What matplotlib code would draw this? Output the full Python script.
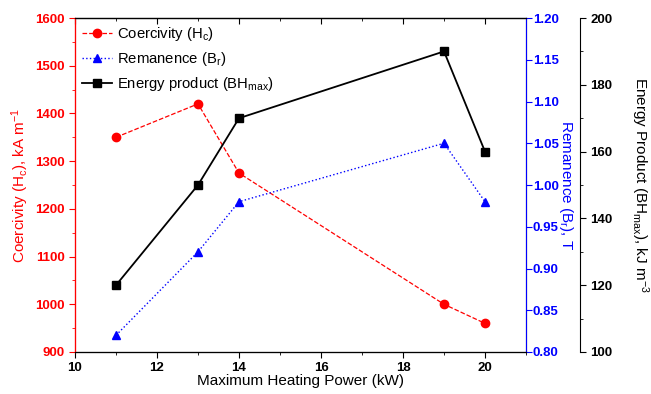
import matplotlib.pyplot as plt
from matplotlib.ticker import MultipleLocator

plt.rcParams['font.family'] = ['Liberation Sans', 'DejaVu Sans']
plt.rcParams['mathtext.default'] = 'regular'

# data
power = [11, 13, 14, 19, 20]
coercivity = [1350, 1420, 1275, 1000, 960]
remanence = [0.82, 0.92, 0.98, 1.05, 0.98]
energy = [120, 150, 170, 190, 160]

fig = plt.figure(figsize=(6.51, 3.94), dpi=100)
ax = fig.add_axes([0.1152, 0.1066, 0.6928, 0.8477])
ax2 = ax.twinx()
ax3 = ax.twinx()
ax3.spines['right'].set_position(('outward', 54 * 0.72))

l1, = ax.plot(power, coercivity, color='red', ls='--', lw=0.9, marker='o', ms=6,
              label='Coercivity (H$_c$)')
l2, = ax2.plot(power, remanence, color='blue', ls=':', lw=1.0, marker='^', ms=6,
               label='Remanence (B$_r$)')
l3, = ax3.plot(power, energy, color='black', ls='-', lw=1.3, marker='s', ms=6,
               label='Energy product (BH$_{max}$)')

ax.set_xlim(10, 21)
ax.set_ylim(900, 1600)
ax2.set_ylim(0.80, 1.20)
ax3.set_ylim(100, 200)

ax.xaxis.set_major_locator(MultipleLocator(2))
ax.xaxis.set_minor_locator(MultipleLocator(1))
ax.yaxis.set_major_locator(MultipleLocator(100))
ax.yaxis.set_minor_locator(MultipleLocator(50))
ax2.yaxis.set_major_locator(MultipleLocator(0.05))
ax3.yaxis.set_major_locator(MultipleLocator(20))
ax3.yaxis.set_minor_locator(MultipleLocator(10))

ax.tick_params(axis='x', which='major', direction='out', length=4, labelsize=9.5)
ax.tick_params(axis='x', which='minor', direction='out', length=2.5)
ax.tick_params(axis='y', which='major', direction='out', length=4, colors='red', labelsize=9.5)
ax.tick_params(axis='y', which='minor', direction='out', length=2.5, colors='red')
ax2.tick_params(axis='y', direction='out', length=4, colors='blue', labelsize=9.5, pad=1)
ax3.tick_params(axis='y', which='major', direction='out', length=4, labelsize=9.5)
ax3.tick_params(axis='y', which='minor', direction='out', length=2.5)
ax2.yaxis.set_major_formatter(plt.FuncFormatter(lambda v, p: '%.2f' % v))

top = ax.secondary_xaxis('top')
top.xaxis.set_major_locator(MultipleLocator(2))
top.xaxis.set_minor_locator(MultipleLocator(1))
top.tick_params(which='major', direction='in', length=4, labeltop=False)
top.tick_params(which='minor', direction='in', length=2.5)

for a in (ax, ax2, ax3):
    for lab in a.get_yticklabels() + a.get_xticklabels():
        lab.set_fontweight('bold')

ax.spines['left'].set_color('red')
ax2.spines['left'].set_color('red')
ax3.spines['left'].set_color('red')
ax2.spines['right'].set_color('blue')
ax3.spines['right'].set_color('black')

ax.set_xlabel('Maximum Heating Power (kW)', fontsize=11, labelpad=0)
ax.set_ylabel('Coercivity (H$_c$), kA m$^{-1}$', color='red', fontsize=11, labelpad=3)
ax2.set_ylabel('Remanence (B$_r$), T', color='blue', fontsize=11, rotation=270, labelpad=12)
ax3.set_ylabel('Energy Product (BH$_{max}$), kJ m$^{-3}$', fontsize=11, rotation=270, labelpad=27)

ax.legend(handles=[l1, l2, l3], loc='upper left', frameon=False, fontsize=10.7,
          handlelength=2.0, borderaxespad=0.2, borderpad=0.3, labelspacing=0.45,
          handletextpad=0.35)

fig.savefig('out.png', dpi=100)
